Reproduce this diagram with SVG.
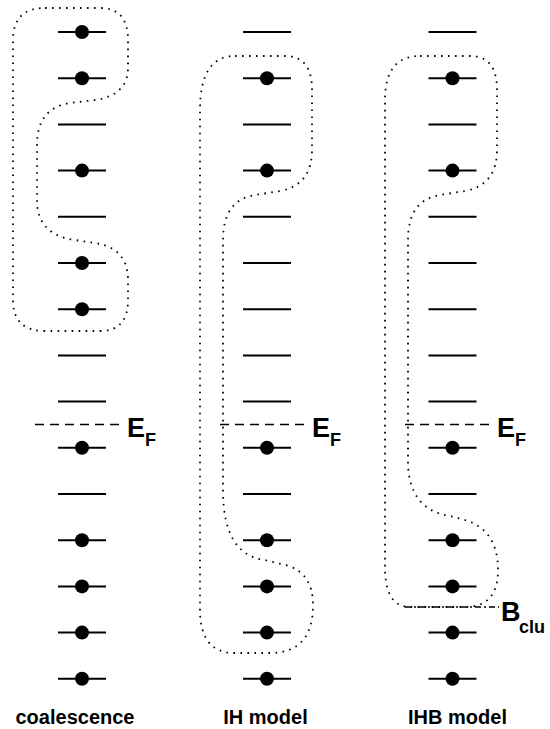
<svg xmlns="http://www.w3.org/2000/svg" xmlns:xlink="http://www.w3.org/1999/xlink" width="550" height="729" viewBox="0 0 550 729">
<style>
.lv{stroke:#000;stroke-width:2;fill:none}
.el{fill:#000}
.loop{fill:none;stroke:#000;stroke-width:1.8;stroke-dasharray:1.6 5.4}
.ef{stroke:#000;stroke-width:1.5;stroke-dasharray:9 6;fill:none}
.bc{stroke:#000;stroke-width:1.5;stroke-dasharray:6 3 2 3;fill:none}
.big{font-family:"Liberation Sans",Arial,sans-serif;font-weight:bold;font-size:27px;fill:#000}
.sub{font-family:"Liberation Sans",Arial,sans-serif;font-weight:bold;font-size:18px;fill:#000}
.cap{font-family:"Liberation Sans",Arial,sans-serif;font-weight:bold;font-size:20px;fill:#000;text-anchor:middle}
</style>
<defs>
<g id="empty"><line class="lv" x1="-24" y1="0" x2="24" y2="0"/></g>
<g id="full"><line class="lv" x1="-24" y1="0" x2="24" y2="0"/><circle class="el" cx="0" cy="0" r="7"/></g>
</defs>
<rect width="550" height="729" fill="#fff"/>

<g id="coalescence">
<use xlink:href="#full" x="82" y="32"/>
<use xlink:href="#full" x="82" y="78.2"/>
<use xlink:href="#empty" x="82" y="124.4"/>
<use xlink:href="#full" x="82" y="170.6"/>
<use xlink:href="#empty" x="82" y="216.8"/>
<use xlink:href="#full" x="82" y="263"/>
<use xlink:href="#full" x="82" y="309.2"/>
<use xlink:href="#empty" x="82" y="355.4"/>
<use xlink:href="#empty" x="82" y="401.6"/>
<use xlink:href="#full" x="82" y="447.8"/>
<use xlink:href="#empty" x="82" y="494"/>
<use xlink:href="#full" x="82" y="540.2"/>
<use xlink:href="#full" x="82" y="586.4"/>
<use xlink:href="#full" x="82" y="632.6"/>
<use xlink:href="#full" x="82" y="678.8"/>
<text class="cap" x="75" y="724">coalescence</text>
</g>

<g id="ih-model">
<use xlink:href="#empty" x="267" y="32"/>
<use xlink:href="#full" x="267" y="78.2"/>
<use xlink:href="#empty" x="267" y="124.4"/>
<use xlink:href="#full" x="267" y="170.6"/>
<use xlink:href="#empty" x="267" y="216.8"/>
<use xlink:href="#empty" x="267" y="263"/>
<use xlink:href="#empty" x="267" y="309.2"/>
<use xlink:href="#empty" x="267" y="355.4"/>
<use xlink:href="#empty" x="267" y="401.6"/>
<use xlink:href="#full" x="267" y="447.8"/>
<use xlink:href="#empty" x="267" y="494"/>
<use xlink:href="#full" x="267" y="540.2"/>
<use xlink:href="#full" x="267" y="586.4"/>
<use xlink:href="#full" x="267" y="632.6"/>
<use xlink:href="#full" x="267" y="678.8"/>
<text class="cap" x="265.5" y="724">IH model</text>
</g>

<g id="ihb-model">
<use xlink:href="#empty" x="452.5" y="32"/>
<use xlink:href="#full" x="452.5" y="78.2"/>
<use xlink:href="#empty" x="452.5" y="124.4"/>
<use xlink:href="#full" x="452.5" y="170.6"/>
<use xlink:href="#empty" x="452.5" y="216.8"/>
<use xlink:href="#empty" x="452.5" y="263"/>
<use xlink:href="#empty" x="452.5" y="309.2"/>
<use xlink:href="#empty" x="452.5" y="355.4"/>
<use xlink:href="#empty" x="452.5" y="401.6"/>
<use xlink:href="#full" x="452.5" y="447.8"/>
<use xlink:href="#empty" x="452.5" y="494"/>
<use xlink:href="#full" x="452.5" y="540.2"/>
<use xlink:href="#full" x="452.5" y="586.4"/>
<use xlink:href="#full" x="452.5" y="632.6"/>
<use xlink:href="#full" x="452.5" y="678.8"/>
<text class="cap" x="457.5" y="724">IHB model</text>
</g>

<g id="loops">
<path class="loop" d="M45,8 L100,8 Q128,8 128,40 L128,68 Q128,95 95,100 L70,103 Q37,108 37,145 L37,200 Q37,235 75,240 L95,243 Q128,248 128,280 L128,300 Q128,331 100,331 L45,331 Q13,331 13,300 L13,40 Q13,8 45,8 Z"/>
<path class="loop" d="M235,56 L285,56 Q312,56 312,90 L312,150 Q312,185 280,191 L255,195 Q223,200 223,240 L223,490 Q223,555 265,560 L285,565 Q313,572 313,605 Q313,653 270,653 L235,653 Q200,653 200,610 L200,110 Q200,56 235,56 Z"/>
<path class="loop" d="M420,56 L470,56 Q497,56 497,90 L497,150 Q497,185 465,191 L440,195 Q408,200 408,240 L408,465 Q410,510 450,516 L465,520 Q498,530 498,570 Q498,607 465,607 L410,607 Q386,607 385,570 L385,100 Q385,56 420,56 Z"/>
</g>

<g id="fermi">
<line class="ef" x1="35" y1="424.5" x2="124" y2="424.5"/>
<text class="big" x="127" y="437">E</text><text class="sub" x="145" y="446">F</text>
<line class="ef" x1="220" y1="424.5" x2="309" y2="424.5"/>
<text class="big" x="312" y="437">E</text><text class="sub" x="330" y="446">F</text>
<line class="ef" x1="405" y1="424.5" x2="494" y2="424.5"/>
<text class="big" x="497" y="437">E</text><text class="sub" x="515" y="446">F</text>
</g>

<g id="bclu">
<line class="bc" x1="405" y1="607" x2="499" y2="607"/>
<text class="big" x="501" y="621">B</text><text class="sub" x="519" y="633">clu</text>
</g>
</svg>
